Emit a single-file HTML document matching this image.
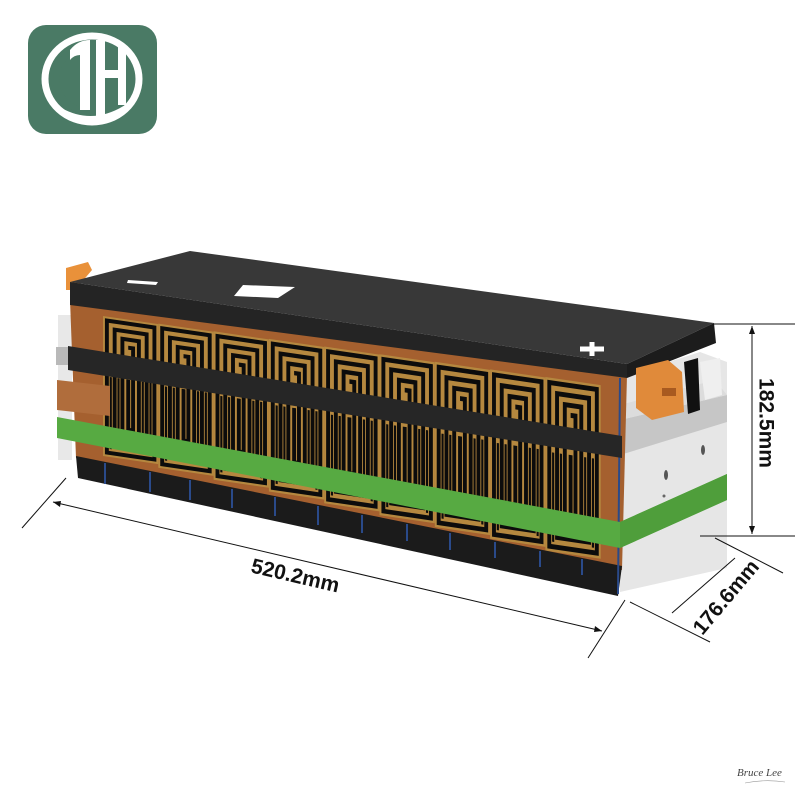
<!DOCTYPE html>
<html><head><meta charset="utf-8"><style>
html,body{margin:0;padding:0;background:#fff;}
svg{display:block;}
</style></head><body>
<svg width="800" height="800" viewBox="0 0 800 800" xmlns="http://www.w3.org/2000/svg">
<defs>
<g id="cell">
  <rect x="0" y="0" width="57" height="140" fill="#b5883f"/>
  <g fill="none" stroke="#0c0c0c" stroke-width="4">
    <rect x="4" y="4" width="49" height="132"/>
    <rect x="12" y="12" width="33" height="116"/>
    <rect x="20" y="20" width="17" height="100"/>
    <path d="M26 28 H31 V110 H26 V60"/>
  </g>
  <g stroke="#0c0c0c" stroke-width="2.2">
    <line x1="8" y1="60" x2="8" y2="132"/>
    <line x1="16" y1="60" x2="16" y2="124"/>
    <line x1="41" y1="60" x2="41" y2="124"/>
    <line x1="49" y1="60" x2="49" y2="132"/>
  </g>
</g>
</defs>

<!-- logo -->
<rect x="28" y="25" width="129" height="109" rx="18" fill="#4a7a65"/>
<ellipse cx="92" cy="79" rx="47" ry="43" fill="none" stroke="#fff" stroke-width="7"/>
<ellipse cx="92" cy="79" rx="36" ry="33" fill="none" stroke="#4a7a65" stroke-width="6"/>
<path d="M70 50 Q78 40 90 40 V110 H80 V55 Q74 55 70 60 Z" fill="#fff"/>
<rect x="96" y="40" width="9" height="80" fill="#fff"/>
<rect x="100" y="70" width="22" height="8" fill="#fff"/>
<rect x="118" y="45" width="8" height="60" fill="#fff"/>
<path d="M60 110 Q92 128 125 108" fill="none" stroke="#fff" stroke-width="5"/>

<!-- right end cap -->
<polygon points="618,378 700,352 727,362 727,568 620,592" fill="#e6e6e6"/>
<polygon points="620,420 727,395 727,422 620,455" fill="#c6c6c6"/>
<polygon points="620,405 715,380 727,395 620,420" fill="#dcdcdc"/>
<polygon points="700,362 720,358 722,395 705,400" fill="#efefef"/>
<ellipse cx="666" cy="475" rx="2" ry="5" fill="#555"/>
<ellipse cx="703" cy="450" rx="2" ry="5" fill="#555"/>
<circle cx="664" cy="496" r="1.5" fill="#666"/>

<!-- left end pieces -->
<rect x="58" y="315" width="14" height="145" fill="#e8e8e8"/>
<rect x="56" y="347" width="15" height="18" fill="#b9b9b9"/>
<polygon points="66,268 88,262 92,270 75,290 66,290" fill="#e9913a"/>

<!-- copper front face -->
<polygon points="70,300 627,375 622,570 76,458" fill="#a5602f"/>
<use href="#cell" transform="matrix(0.97,0.142,0,1.00,103,316)"/>
<use href="#cell" transform="matrix(0.97,0.142,0,1.03,158.3,323.6)"/>
<use href="#cell" transform="matrix(0.97,0.142,0,1.06,213.6,331.3)"/>
<use href="#cell" transform="matrix(0.97,0.142,0,1.09,268.9,338.9)"/>
<use href="#cell" transform="matrix(0.97,0.142,0,1.12,324.2,346.5)"/>
<use href="#cell" transform="matrix(0.97,0.142,0,1.15,379.5,354.2)"/>
<use href="#cell" transform="matrix(0.97,0.142,0,1.18,434.8,361.8)"/>
<use href="#cell" transform="matrix(0.97,0.142,0,1.21,490.1,369.4)"/>
<use href="#cell" transform="matrix(0.97,0.142,0,1.24,545.4,377.0)"/>

<!-- bottom black cells -->
<polygon points="76,456 622,566 618,596 78,478" fill="#1b1b1b"/>
<g stroke="#2a4a8a" stroke-width="2">
  <line x1="105" y1="463" x2="105" y2="484"/>
  <line x1="150" y1="472" x2="150" y2="492"/>
  <line x1="190" y1="480" x2="190" y2="500"/>
  <line x1="232" y1="489" x2="232" y2="508"/>
  <line x1="275" y1="497" x2="275" y2="516"/>
  <line x1="318" y1="506" x2="318" y2="525"/>
  <line x1="362" y1="515" x2="362" y2="533"/>
  <line x1="407" y1="524" x2="407" y2="541"/>
  <line x1="450" y1="533" x2="450" y2="550"/>
  <line x1="495" y1="542" x2="495" y2="558"/>
  <line x1="540" y1="551" x2="540" y2="567"/>
  <line x1="582" y1="559" x2="582" y2="575"/>
</g>
<line x1="620" y1="378" x2="618" y2="594" stroke="#2a4a8a" stroke-width="2"/>

<!-- black band -->
<polygon points="68,346 622,436 622,458 68,370" fill="#262626"/>
<!-- brown tab -->
<polygon points="57,380 110,386 110,416 57,410" fill="#b06d3c"/>
<!-- green band -->
<polygon points="57,417 620,522 727,474 727,500 620,548 57,438" fill="#57aa42"/>
<polygon points="620,522 727,474 727,500 620,548" fill="#4f9e3b"/>

<!-- lid -->
<polygon points="70,282 190,251 714,323 627,364" fill="#383838"/>
<polygon points="70,282 627,364 627,378 70,305" fill="#242424"/>
<polygon points="627,364 714,323 716,343 627,378" fill="#1c1c1c"/>
<polygon points="128,280 158,282 156,285 127,283" fill="#fff"/>
<polygon points="243,285 295,287 278,298 234,296" fill="#fff"/>
<path d="M580 349 H604 M592 342 V356" stroke="#fff" stroke-width="5"/>

<!-- right orange clip -->
<polygon points="636,368 668,360 682,372 684,412 652,420 636,408" fill="#e08a3a"/>
<rect x="662" y="388" width="14" height="8" fill="#a85a20"/>
<polygon points="684,362 698,358 700,410 688,414" fill="#111"/>

<!-- dimension lines -->
<g stroke="#111" stroke-width="1" fill="none">
  <line x1="713" y1="324" x2="795" y2="324"/>
  <line x1="700" y1="536" x2="795" y2="536"/>
  <line x1="752" y1="326" x2="752" y2="534"/>
  <line x1="22" y1="528" x2="66" y2="478"/>
  <line x1="588" y1="658" x2="625" y2="600"/>
  <line x1="53" y1="502" x2="602" y2="631"/>
  <line x1="715" y1="538" x2="783" y2="573"/>
  <line x1="630" y1="602" x2="710" y2="642"/>
  <line x1="735" y1="558" x2="672" y2="613"/>
</g>
<g fill="#111">
  <polygon points="752,326 749,334 755,334"/>
  <polygon points="752,534 749,526 755,526"/>
  <polygon points="53,502 61,501 60,507"/>
  <polygon points="602,631 594,632 595,626"/>
</g>
<g font-family="Liberation Sans, sans-serif" font-weight="bold" font-size="21" fill="#111">
  <text x="0" y="0" transform="translate(295,577) rotate(13)" text-anchor="middle" dominant-baseline="middle">520.2mm</text>
  <text x="0" y="0" transform="translate(765,423) rotate(90)" text-anchor="middle" dominant-baseline="middle">182.5mm</text>
  <text x="0" y="0" transform="translate(727,598) rotate(-50)" text-anchor="middle" dominant-baseline="middle">176.6mm</text>
</g>
<text x="737" y="776" font-family="Liberation Serif, serif" font-style="italic" font-size="11" fill="#444">Bruce Lee</text>
<path d="M745 783 Q765 779 785 782" stroke="#999" stroke-width="0.6" fill="none"/>
</svg>
</body></html>
